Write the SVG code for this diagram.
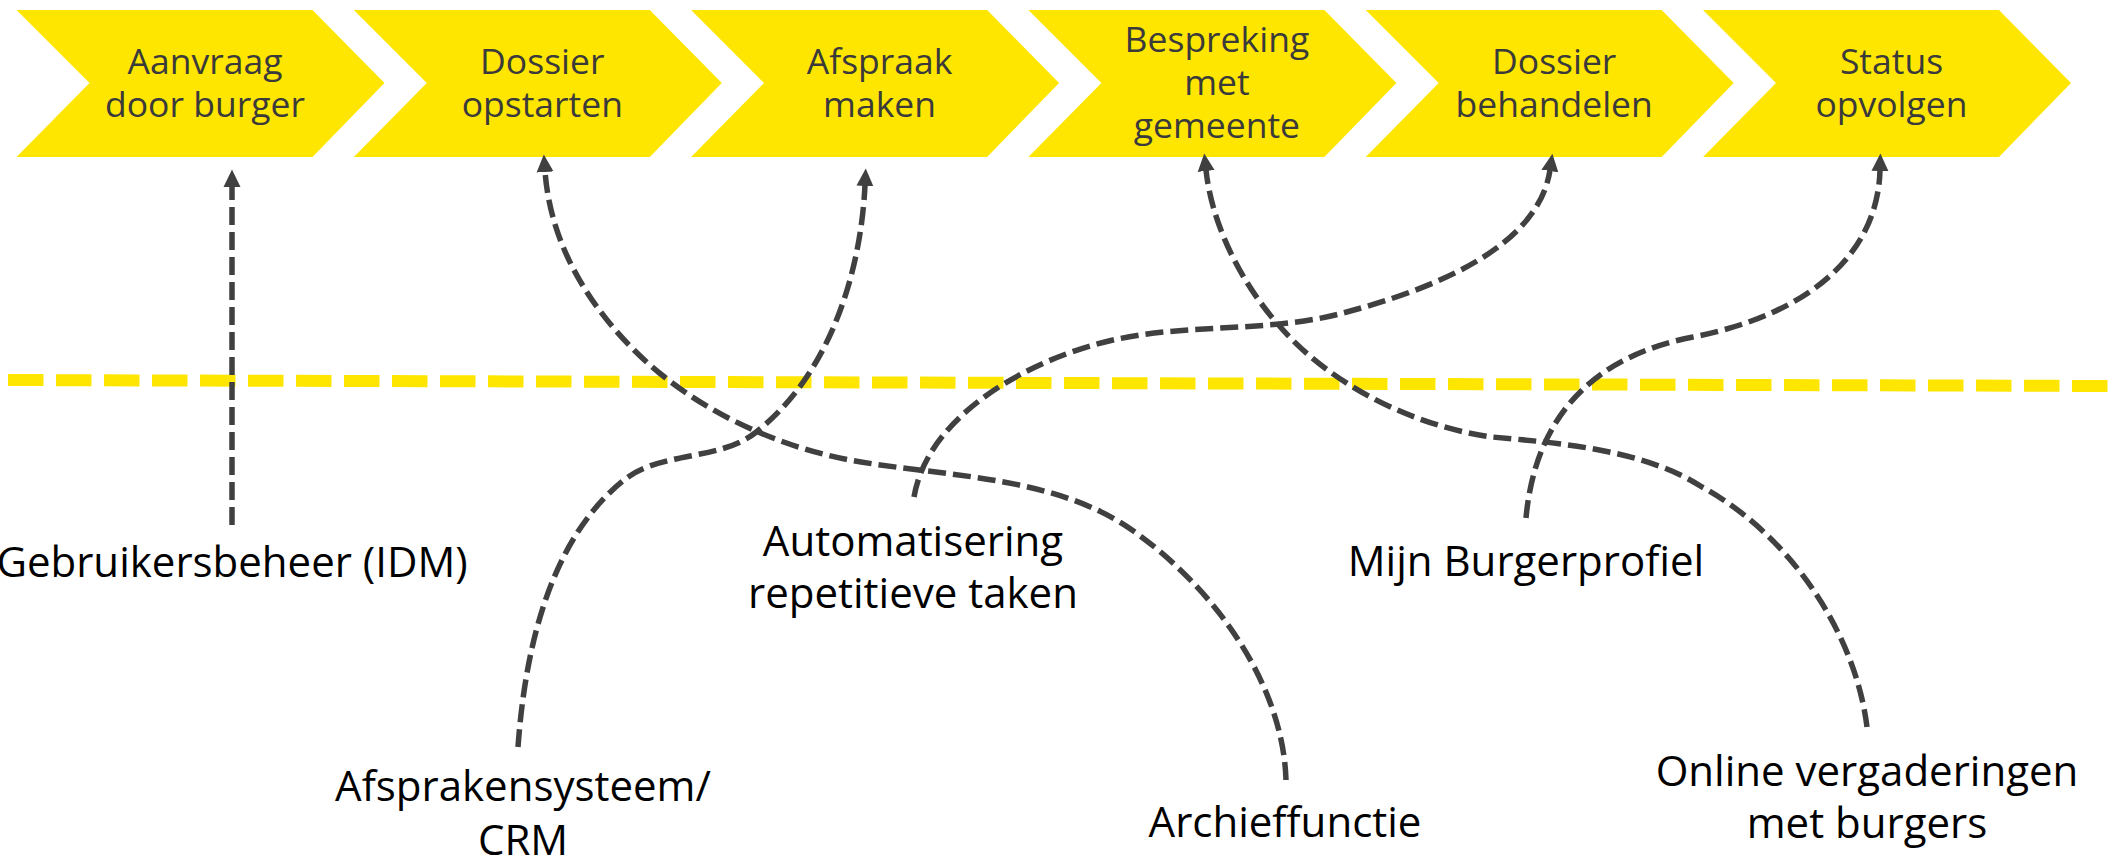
<svg xmlns="http://www.w3.org/2000/svg" xmlns:xlink="http://www.w3.org/1999/xlink" width="2118" height="865" viewBox="0 0 2118 865">
<style>
.chev{fill:#FFE600}
.ct{font-family:"Open Sans","Noto Sans","Liberation Sans",sans-serif;font-size:35.5px;fill:#3a3a3a;text-anchor:middle}
.lbl{font-family:"Open Sans","Noto Sans","Liberation Sans",sans-serif;font-size:42px;fill:#000;text-anchor:middle}
.conn{fill:none;stroke:#404040;stroke-width:5.5;stroke-dasharray:18 7;marker-end:url(#ah)}
.sep{fill:none;stroke:#FFE600;stroke-width:12;stroke-dasharray:35.5 12.5}
</style>
<defs>
<polygon id="chevshape" points="0,10 296,10 368,83 296,157 0,157 73,83"/>
<marker id="ah" markerUnits="userSpaceOnUse" markerWidth="18" markerHeight="18" viewBox="0 0 18 18" refX="1" refY="9" orient="auto">
<path d="M0,0.5 L17.5,9 L0,17.5 z" fill="#404040"/>
</marker>
</defs>
<rect width="2118" height="865" fill="#fff"/>

<g id="step1"><use xlink:href="#chevshape" href="#chevshape" x="16.5" class="chev"/><text class="ct" x="205" y="74">Aanvraag</text><text class="ct" x="205" y="117">door burger</text></g>
<g id="step2"><use xlink:href="#chevshape" href="#chevshape" x="353.8" class="chev"/><text class="ct" x="542.3" y="74">Dossier</text><text class="ct" x="542.3" y="117">opstarten</text></g>
<g id="step3"><use xlink:href="#chevshape" href="#chevshape" x="691.1" class="chev"/><text class="ct" x="879.6" y="74">Afspraak</text><text class="ct" x="879.6" y="117">maken</text></g>
<g id="step4"><use xlink:href="#chevshape" href="#chevshape" x="1028.4" class="chev"/><text class="ct" x="1216.9" y="52">Bespreking</text><text class="ct" x="1216.9" y="95">met</text><text class="ct" x="1216.9" y="138">gemeente</text></g>
<g id="step5"><use xlink:href="#chevshape" href="#chevshape" x="1365.7" class="chev"/><text class="ct" x="1554.2" y="74">Dossier</text><text class="ct" x="1554.2" y="117">behandelen</text></g>
<g id="step6"><use xlink:href="#chevshape" href="#chevshape" x="1703" class="chev"/><text class="ct" x="1891.5" y="74">Status</text><text class="ct" x="1891.5" y="117">opvolgen</text></g>

<g id="separator"><path class="sep" d="M8,380 L2111,386"/></g>

<g id="connectors">
<path class="conn" d="M232,525 L232,186"/>
<path class="conn" d="M1286,780 C1283,682 1212,586 1132,530 C1056,477 953,477 861,462 C778,448.5 693,409 634,350 C584.5,300.5 550,240 545,171"/>
<path class="conn" d="M518,747 C525,651 549,540 624,480 C660,451 719,461 755,433 C831,374 861,270 865,185"/>
<path class="conn" d="M914,497 C928,414 1031,358.5 1113,340 C1188,323 1269,333 1343,313 C1426,291 1538,250 1550,170"/>
<path class="conn" d="M1526,518 C1536,410 1600,355 1693,337 C1815,313 1878,250 1880,170"/>
<path class="conn" d="M1867,727 C1855,630 1787,533 1702,487 C1645,450 1560,443 1492,437 C1427,428 1361,399 1311,357 C1253,308 1213,235 1206,170"/>
</g>

<g id="lbl-idm"><text class="lbl" x="232" y="577">Gebruikersbeheer (IDM)</text></g>
<g id="lbl-auto"><text class="lbl" x="913" y="556">Automatisering</text><text class="lbl" x="913" y="608">repetitieve taken</text></g>
<g id="lbl-mbp"><text class="lbl" x="1526" y="576">Mijn Burgerprofiel</text></g>
<g id="lbl-crm"><text class="lbl" x="523" y="801">Afsprakensysteem/</text><text class="lbl" x="523" y="855">CRM</text></g>
<g id="lbl-archief"><text class="lbl" x="1285" y="837">Archieffunctie</text></g>
<g id="lbl-online"><text class="lbl" x="1867" y="786">Online vergaderingen</text><text class="lbl" x="1867" y="838">met burgers</text></g>
</svg>
